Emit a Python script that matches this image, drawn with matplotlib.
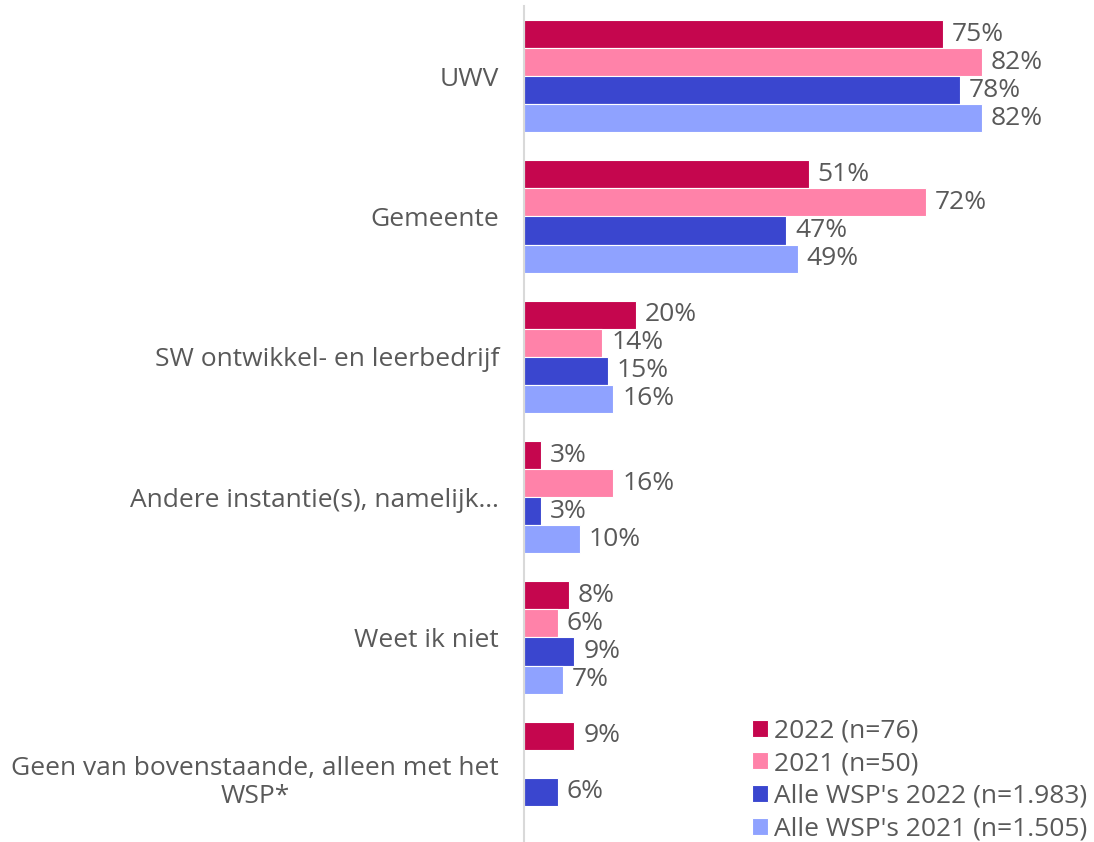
import matplotlib
matplotlib.use("Agg")
import matplotlib.pyplot as plt
import numpy as np

plt.rcParams['font.family'] = ['Open Sans', 'DejaVu Sans']

categories = ["UWV", "Gemeente", "SW ontwikkel- en leerbedrijf",
              "Andere instantie(s), namelijk…", "Weet ik niet",
              "Geen van bovenstaande, alleen met het\nWSP*"]
series_names = ["2022 (n=76)", "2021 (n=50)",
                "Alle WSP's 2022 (n=1.983)", "Alle WSP's 2021 (n=1.505)"]
v2022 = [75, 51, 20, 3, 8, 9]
v2021 = [82, 72, 14, 16, 6, None]
alle2022 = [78, 47, 15, 3, 9, 6]
alle2021 = [82, 49, 16, 10, 7, None]
colors = ["#C5064E", "#FF82A9", "#3A46CF", "#8FA2FF"]

series = [v2022, v2021, alle2022, alle2021]

fig = plt.figure(figsize=(10.94, 8.42), dpi=100)
ax = fig.add_axes([524/1094, -0.0071, 558.5/1094, 1.0])

text_color = "#595959"
fs = 19
n = len(categories)
h = 0.2
for i, (vals, name, col) in enumerate(zip(series, series_names, colors)):
    ys = [c - 0.3 + i * h for c in range(n)]
    yy = [y for y, v in zip(ys, vals) if v is not None]
    vv = [v for v in vals if v is not None]
    ax.barh(yy, vv, height=h, color=col, edgecolor="white", linewidth=0.8, label=name)
    for y, v in zip(yy, vv):
        ax.text(v + 1.6, y, f"{v}%", va="center", ha="left", fontsize=fs, color=text_color)

ax.set_xlim(0, 100)
ax.set_ylim(n - 0.5, -0.5)
ax.set_yticks(range(n))
ax.set_yticklabels(categories, fontsize=fs, color=text_color, multialignment="center",
                   linespacing=1.15)
ax.tick_params(axis="y", length=0, pad=18)
ax.set_xticks([])
for s in ["top", "right", "bottom"]:
    ax.spines[s].set_visible(False)
ax.spines["left"].set_color("#D9D9D9")
ax.spines["left"].set_linewidth(1.5)

leg = fig.legend(loc="lower right", bbox_to_anchor=(1.0073, -0.0166), frameon=False,
                 fontsize=fs, labelcolor=text_color, handlelength=0.6, handleheight=0.6,
                 handletextpad=0.25, labelspacing=0.29, borderaxespad=0.15)

fig.savefig("out.png", dpi=100)
